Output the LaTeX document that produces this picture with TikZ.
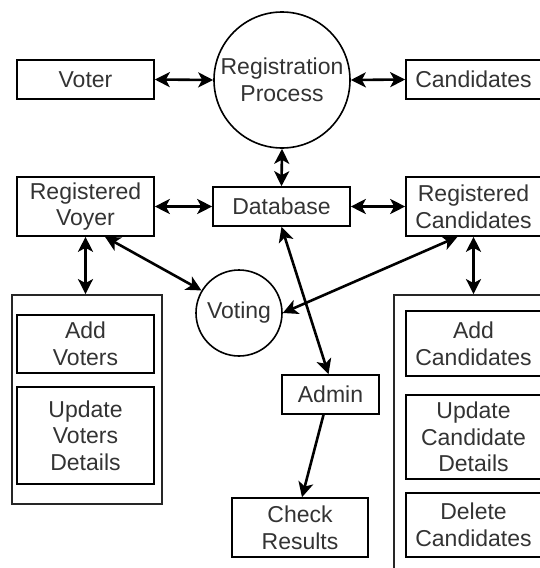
\documentclass[tikz,border=0pt]{standalone}
\usepackage{fontspec}
\setmainfont{Liberation Sans}
\usetikzlibrary{arrows.meta}
\begin{document}
\begin{tikzpicture}[x=1pt,y=-1pt,
  every node/.style={font=\fontsize{23}{26.7}\selectfont, text=black!80, align=center, inner sep=0pt},
  box/.style={draw=black, line width=1.6pt, rectangle},
  proc/.style={draw=black, line width=1.6pt, circle},
  holder/.style={draw=black!85, line width=1.8pt, rectangle},
  link/.style={line width=2.6pt, {Stealth[length=15pt,width=15pt,inset=4pt]}-{Stealth[length=15pt,width=15pt,inset=4pt]}},
  onelink/.style={line width=2.6pt, -{Stealth[length=15pt,width=15pt,inset=4pt]}}
]
\useasboundingbox (0,0) rectangle (540,568);
% containers
\node[holder, minimum width=150pt, minimum height=209pt] (leftbox) at (87,399.5) {};
\node[holder, minimum width=166pt, minimum height=285pt] (rightbox) at (477,437.5) {};
% top row
\node[box, minimum width=137pt, minimum height=39pt] (voter) at (85.5,79.5) {Voter};
\node[proc, minimum size=136pt] (reg) at (282,80) {Registration\\Process};
\node[box, minimum width=135pt, minimum height=39pt] (cand) at (473.5,79.5) {Candidates};
% second row
\node[box, minimum width=137pt, minimum height=59pt] (rvoter) at (85.5,206.5) {Registered\\Voyer};
\node[box, minimum width=137pt, minimum height=39pt] (db) at (281.5,206.5) {Database};
\node[box, minimum width=135pt, minimum height=59pt] (rcand) at (473.5,206.5) {Registered\\Candidates};
% voting
\node[proc, minimum size=86pt] (voting) at (239,313) {Voting};
% left inner boxes
\node[box, minimum width=137pt, minimum height=58pt] (addv) at (85.5,344) {Add\\Voters};
\node[box, minimum width=137pt, minimum height=97pt] (updv) at (85.5,435.5) {Update\\Voters\\Details};
% admin and results
\node[box, minimum width=97pt, minimum height=39pt] (admin) at (330.5,394.5) {Admin};
\node[box, minimum width=136pt, minimum height=59pt] (check) at (300,527.5) {Check\\Results};
% right inner boxes
\node[box, minimum width=135pt, minimum height=65pt] (addc) at (473.5,343.5) {Add\\Candidates};
\node[box, minimum width=135pt, minimum height=84pt] (updc) at (473.5,437) {Update\\Candidate\\Details};
\node[box, minimum width=135pt, minimum height=64pt] (delc) at (473.5,525) {Delete\\Candidates};
% connectors
\draw[link] (voter.east) -- (reg.west);
\draw[link] (reg.east) -- (cand.west);
\draw[link] (reg.south) -- (db.north);
\draw[link] (rvoter.east) -- (db.west);
\draw[link] (db.east) -- (rcand.west);
\draw[link] (rvoter.south) -- (rvoter.south |- leftbox.north);
\draw[link] (rcand.south) -- (rcand.south |- rightbox.north);
\draw[link] ([xshift=19.5pt]rvoter.south) -- (voting.149);
\draw[link] ([xshift=-16pt]rcand.south) -- (voting.east);
\draw[link] (db.south) -- ([xshift=-2pt]admin.north);
\draw[onelink] ([xshift=-7pt]admin.south) -- ([xshift=2pt]check.north);
\end{tikzpicture}
\end{document}
